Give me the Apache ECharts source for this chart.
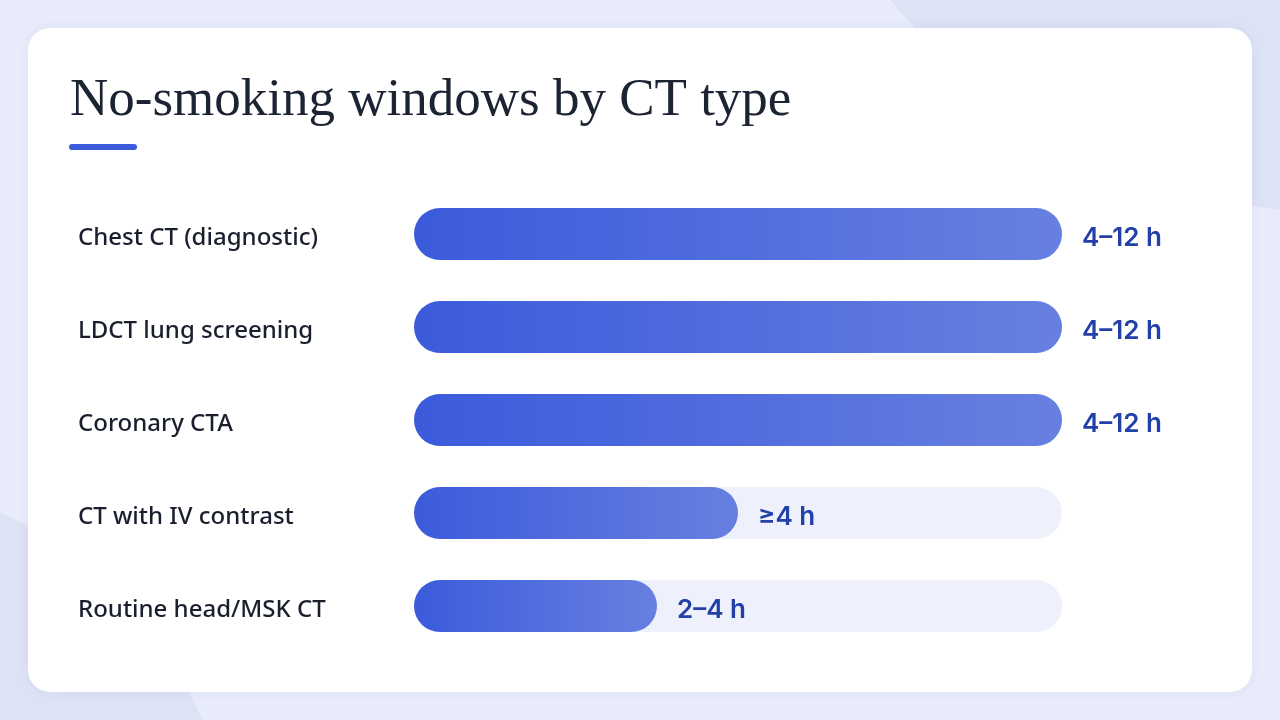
<!DOCTYPE html>
<html>
<head>
<meta charset="utf-8">
<style>
  html, body { margin: 0; padding: 0; background: #e8ebf9; }
  #chart { width: 1280px; height: 720px; }
</style>
<script src="https://cdn.jsdelivr.net/npm/echarts@6/dist/echarts.min.js"></script>
</head>
<body>
<div id="chart"></div>
<script>
// data
var categories = ['Chest CT (diagnostic)', 'LDCT lung screening', 'Coronary CTA', 'CT with IV contrast', 'Routine head/MSK CT'];
var barValues = [12, 12, 12, 6, 4.5];
var valueLabels = ['4–12 h', '4–12 h', '4–12 h', '≥4 h', '2–4 h'];
var axisMax = 12;

var chart = echarts.init(document.getElementById('chart'));

var option = {
  backgroundColor: '#e8ebf9',
  animation: false,
  graphic: [
    // background blobs
    { type: 'circle', z: -30, shape: { cx: 1350, cy: -387, r: 601 }, style: { fill: '#dde2f5' } },
    { type: 'circle', z: -30, shape: { cx: -160, cy: 870, r: 392 }, style: { fill: '#dde2f5' } },
    // card
    {
      type: 'rect', z: -20,
      shape: { x: 28, y: 28, width: 1224, height: 664, r: 22 },
      style: { fill: '#ffffff', shadowBlur: 12, shadowColor: 'rgba(60,80,160,0.06)' }
    },
    // title
    {
      type: 'text', z: -10, left: 70, top: 75,
      style: {
        text: 'No-smoking windows by CT type',
        font: '400 53px "Liberation Serif", serif',
        fill: '#1c2333'
      }
    },
    // accent line
    {
      type: 'rect', z: -10,
      shape: { x: 69, y: 144, width: 68, height: 6, r: 3 },
      style: { fill: '#3b5bdb' }
    }
  ],
  grid: { left: 414, right: 218, top: 187.5, bottom: 67.5 },
  xAxis: {
    type: 'value', min: 0, max: axisMax,
    show: false
  },
  yAxis: {
    type: 'category',
    data: categories,
    inverse: true,
    axisLine: { show: false },
    axisTick: { show: false },
    axisLabel: {
      align: 'left',
      margin: 336,
      formatter: function (v) { return '{c|' + v + '}'; },
      rich: {
        c: {
          fontFamily: 'Noto Sans',
          fontWeight: 500,
          fontSize: 24,
          color: '#1a1f2e',
          padding: [8, 0, 0, 0]
        }
      }
    }
  },
  series: [{
    type: 'bar',
    data: barValues,
    barWidth: 52,
    showBackground: true,
    backgroundStyle: { color: '#eef0fb', borderRadius: 26 },
    itemStyle: {
      borderRadius: 26,
      color: new echarts.graphic.LinearGradient(0, 0, 1, 0, [
        { offset: 0, color: '#3b5bdb' },
        { offset: 1, color: '#6780e0' }
      ])
    },
    label: {
      show: true,
      position: 'right',
      distance: 20,
      offset: [0, 4],
      formatter: function (p) { return valueLabels[p.dataIndex]; },
      fontFamily: 'Inter',
      fontWeight: 600,
      fontSize: 26,
      color: '#2340a8'
    }
  }]
};

chart.setOption(option);
</script>
</body>
</html>
